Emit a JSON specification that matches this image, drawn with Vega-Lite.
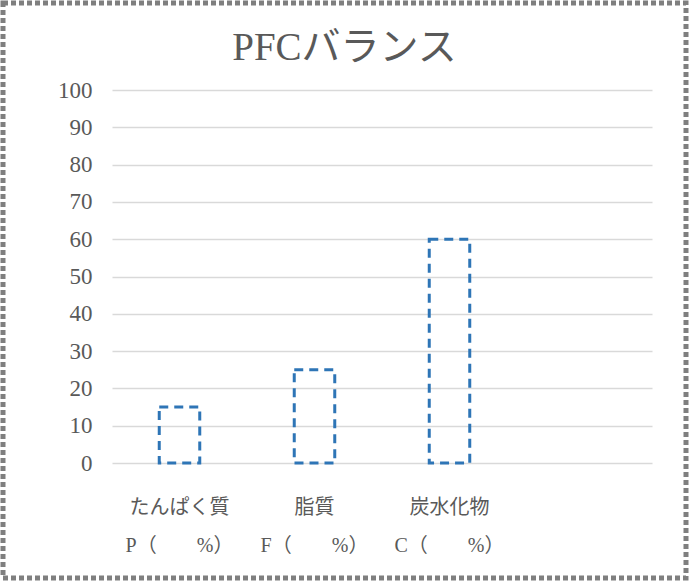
{
  "$schema": "https://vega.github.io/schema/vega-lite/v6.json",
  "width": 540,
  "height": 373,
  "autosize": "none",
  "padding": {"left": 112, "top": 90, "right": 39, "bottom": 119},
  "background": "white",
  "title": {
    "text": "PFCバランス",
    "font": "Liberation Serif, Noto Sans CJK JP",
    "fontSize": 39,
    "fontWeight": "normal",
    "color": "#595959",
    "anchor": "middle",
    "frame": "bounds",
    "baseline": "alphabetic",
    "offset": -98
  },
  "config": {
    "view": {"stroke": null},
    "axis": {
      "labelFont": "Liberation Serif, Noto Sans CJK JP",
      "labelColor": "#595959",
      "domain": false,
      "ticks": false
    }
  },
  "layer": [
    {
      "data": {"values": [{"frame": "border"}]},
      "mark": {"type": "rect", "fill": null, "stroke": "#7f7f7f", "strokeWidth": 5, "strokeDash": [5, 3]},
      "encoding": {
        "x": {"value": -109},
        "x2": {"value": 574},
        "y": {"value": -87},
        "y2": {"value": 488}
      }
    },
    {
      "data": {
        "values": [
          {"nutrient": "たんぱく質\nP（　　%）", "percent": 15},
          {"nutrient": "脂質\nF（　　%）", "percent": 25},
          {"nutrient": "炭水化物\nC（　　%）", "percent": 60}
        ]
      },
      "mark": {"type": "bar", "fill": "transparent", "stroke": "#2e75b6", "strokeWidth": 3, "strokeDash": [9, 6]},
      "encoding": {
        "x": {
          "field": "nutrient",
          "type": "nominal",
          "sort": null,
          "scale": {
            "domain": ["たんぱく質\nP（　　%）", "脂質\nF（　　%）", "炭水化物\nC（　　%）", " "],
            "paddingInner": 0.7,
            "paddingOuter": 0.35
          },
          "axis": {
            "title": null,
            "labelAngle": 0,
            "labelFontSize": 20,
            "labelPadding": 34,
            "labelLineHeight": 38,
            "labelExpr": "split(datum.label, '\\n')"
          }
        },
        "y": {
          "field": "percent",
          "type": "quantitative",
          "scale": {"domain": [0, 100], "nice": false},
          "axis": {
            "title": null,
            "values": [0, 10, 20, 30, 40, 50, 60, 70, 80, 90, 100],
            "labelFontSize": 23,
            "labelPadding": 20,
            "gridColor": "#d9d9d9",
            "gridWidth": 1.5
          }
        }
      }
    }
  ]
}
